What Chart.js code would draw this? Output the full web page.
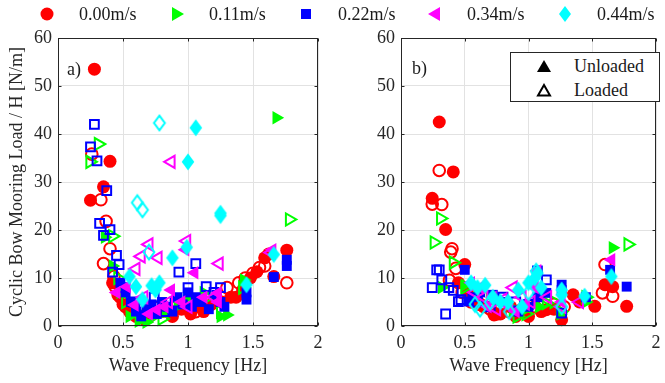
<!DOCTYPE html>
<html><head><meta charset="utf-8">
<script src="https://cdn.jsdelivr.net/npm/chart.js@4.4.1/dist/chart.umd.min.js"></script>
<style>
html,body{margin:0;padding:0;background:#fff;}
body{width:665px;height:383px;position:relative;overflow:hidden;font-family:"Liberation Serif","Times New Roman",serif;color:#1a1a1a;}
canvas{position:absolute;top:0;}
#c1{left:0;}
#c2{left:335px;}
.it{position:absolute;font-size:18px;line-height:20px;white-space:nowrap;}
.mk{position:absolute;}
#box{position:absolute;left:510px;top:52px;width:148px;height:48px;border:1px solid #262626;background:#fff;}
.pl{position:absolute;font-size:18px;line-height:20px;}
</style></head><body>
<canvas id="c1" width="330" height="383"></canvas>
<canvas id="c2" width="330" height="383"></canvas>
<div id="legend"></div>
<div class="pl" style="left:67px;top:59px;">a)</div>
<div class="pl" style="left:412px;top:58px;">b)</div>
<div id="box">
  <svg class="mk" style="left:25px;top:6px" width="16" height="14"><polygon points="8,1 15,13 1,13" fill="#000"/></svg>
  <div class="it" style="left:63px;top:3px;">Unloaded</div>
  <svg class="mk" style="left:25px;top:30px" width="16" height="14"><polygon points="8,2 14,12.5 2,12.5" fill="none" stroke="#000" stroke-width="2"/></svg>
  <div class="it" style="left:63px;top:27px;">Loaded</div>
</div>
<script>
// ---------------- data ----------------
const SPEEDS = ['0.00m/s','0.11m/s','0.22m/s','0.34m/s','0.44m/s'];
const X_TICKS = [0, 0.5, 1, 1.5, 2];
const Y_TICKS = [0, 10, 20, 30, 40, 50, 60];
const X_TITLE = 'Wave Frequency [Hz]';
const Y_TITLE = 'Cyclic Bow Mooring Load / H [N/m]';

// panel a) [frequency Hz, load N/m]
const a000U = [[0.28,53.5],[0.40,34.3],[0.25,26.2],[0.35,29.0],[0.42,9],[0.46,6.5],[0.48,8],[0.50,4.5],[0.55,3],[0.60,2],[0.66,1.5],[0.72,2.5],[0.80,3],[0.88,2],[0.95,3.5],[1.02,2.5],[1.08,4],[1.12,3],[1.18,4.5],[1.26,5],[1.33,6],[1.37,6],[1.42,7.5],[1.48,10],[1.53,11.3],[1.59,14.2],[1.62,15],[1.66,10.3],[1.76,15.8]];
const a000L = [[0.26,35.8],[0.33,26.3],[0.37,21.8],[0.40,16.1],[0.35,13],[0.43,10.3],[0.44,8.2],[0.48,6],[0.52,4],[0.58,2.5],[0.64,3.5],[0.70,2],[0.78,4],[0.86,3],[0.94,4],[1.00,5],[1.06,3],[1.14,4],[1.22,5.5],[1.30,8],[1.39,9],[1.44,10],[1.50,11],[1.55,12.2],[1.59,12.5],[1.76,9]];
const a011U = [[1.68,43.4],[0.36,18.5],[0.42,12.5],[0.48,7],[0.55,2],[0.62,1],[0.68,0.8],[0.74,2],[0.83,3],[0.92,4.5],[1.00,6],[1.05,5],[1.12,7],[1.25,2],[1.30,2.3],[1.43,9.6]];
const a011L = [[0.31,37.9],[0.245,34.2],[1.78,22.2],[0.42,18.7],[0.46,10],[0.52,5],[0.60,3],[0.70,2],[0.80,1.5],[0.90,4],[1.05,5],[1.15,6],[1.25,3],[1.42,8]];
const a022U = [[0.48,9],[0.52,7],[0.56,5],[0.60,3],[0.64,2],[0.68,3.5],[0.72,4.5],[0.76,2.5],[0.80,5],[0.84,4],[0.88,3],[0.92,6],[0.96,4.5],[1.00,7],[1.03,4],[1.06,6],[1.10,5],[1.16,3.5],[1.22,6.5],[1.25,5],[1.28,4],[1.45,5.5],[1.45,7],[1.66,10.2],[1.76,13.8],[1.76,12.5]];
const a022L = [[0.28,42],[0.25,37.3],[0.30,34.4],[0.375,28.2],[0.32,21.4],[0.40,20.1],[0.35,18.9],[0.45,14.7],[0.47,12.8],[0.42,11.2],[0.93,11.2],[1.06,13],[1.14,8.2],[0.50,8],[0.58,5],[0.66,4],[0.74,6],[0.82,3],[0.90,5],[1.00,8],[1.20,7],[1.25,8]];
const a034U = [[0.98,15.9],[1.05,11.1],[0.87,7.5],[0.59,4.4],[0.53,8.2],[1.23,6.9],[1.23,5],[0.76,3.4],[0.70,2.5],[0.82,4],[0.95,5],[1.12,6],[1.65,15.9],[0.45,7]];
const a034L = [[0.87,34.2],[0.70,17],[0.64,14.5],[0.77,14.2],[0.60,11.9],[0.99,17.7],[1.24,13],[1.64,15.3],[0.85,5],[1.20,6],[0.66,6],[1.00,4]];
const a044U = [[1.06,41.3],[1.00,34.2],[1.25,23.5],[1.25,23],[0.99,16.4],[0.88,14.2],[0.55,10.3],[0.60,8.2],[0.65,5.5],[0.72,8.4],[0.78,9],[1.66,14.9],[1.45,8.6],[0.75,7.5]];
const a044L = [[0.78,42.3],[0.61,25.7],[0.65,24.2],[0.70,15.4]];

// panel b)
const b000U = [[0.30,42.5],[0.41,32.1],[0.245,26.6],[0.35,20.1],[0.50,12.8],[0.45,9],[0.52,7],[0.58,5],[0.65,4],[0.73,2.3],[0.78,2.5],[0.86,4],[0.90,2],[1.00,2],[1.10,3],[1.14,3.4],[1.26,1.3],[1.20,3.5],[1.35,6.5],[1.40,5],[1.52,4.1],[1.60,8.6],[1.66,8.2],[1.77,4.1]];
const b000L = [[0.30,32.4],[0.245,25.4],[0.32,25.3],[0.40,16.1],[0.39,15.4],[0.43,12],[0.38,9.5],[0.48,7],[0.55,5],[0.62,4.5],[0.70,3.5],[0.75,2.5],[0.85,3],[0.95,3.5],[1.05,4],[1.20,4.5],[1.28,4],[1.60,12.8],[1.58,6.9],[1.66,6.2]];
const b011U = [[1.66,16.3],[0.32,8],[0.50,8.5],[0.60,7],[0.75,5],[0.95,3],[1.08,4],[1.25,2.5],[1.45,5]];
const b011L = [[1.78,17],[0.31,22.4],[0.26,17.4],[0.41,13.2],[0.50,8],[0.70,6],[0.88,3.5],[0.91,2],[0.98,2.5],[1.10,4.5],[1.14,4.8],[1.20,5],[1.25,3],[1.45,6]];
const b022U = [[0.50,11.7],[0.53,5.1],[0.56,6],[0.62,7],[0.72,6.5],[0.80,5],[0.92,3],[1.00,4],[1.07,6],[1.14,6.9],[1.26,8.6],[1.26,7.5],[1.45,6],[1.64,11.7],[1.77,8.2]];
const b022L = [[0.28,11.7],[0.30,11.7],[0.245,8],[0.35,2.5],[0.32,9.6],[0.375,8],[0.41,7.4],[0.45,5.1],[0.47,5.5],[1.14,9.6],[0.60,5],[0.70,4],[0.80,6],[0.90,5],[1.00,4.5],[1.07,11.5],[1.26,2.7]];
const b034U = [[1.65,13.8],[1.07,11.5],[0.55,9],[0.62,8],[0.72,6],[0.85,4],[0.90,3],[0.98,4.5],[1.05,8],[1.26,5],[0.68,4]];
const b034L = [[0.58,7],[0.65,6],[0.75,3.5],[0.88,8],[0.95,6],[1.02,5],[1.15,6],[1.26,4],[1.40,5],[0.80,5.5]];
const b044U = [[1.65,10.3],[0.55,9],[0.60,8],[0.66,8.5],[0.72,6],[0.78,5],[0.84,5],[0.92,7.5],[1.00,9],[1.05,10],[1.07,11],[1.10,8],[1.26,7.5],[1.26,6.5],[1.44,6.2],[0.95,4]];
const b044L = [[0.58,4.5],[0.62,3.5],[0.70,5],[0.85,3],[1.06,11.4],[1.00,7],[1.26,4]];

// ---------------- styles ----------------
const COLORS = ['#ff0000','#00ff00','#0000ff','#ff00ff','#00ffff'];
const FONT = '"Liberation Serif","Times New Roman",serif';
const TXT = '#262626';

function diamond(fill, color){
  const c = document.createElement('canvas'); c.width = 16; c.height = 20;
  const g = c.getContext('2d'); g.beginPath();
  if (fill){ g.moveTo(8,1.5); g.lineTo(14.3,10); g.lineTo(8,18.5); g.lineTo(1.7,10); g.closePath(); g.fillStyle = color; g.fill(); }
  else { g.moveTo(8,2.6); g.lineTo(13.4,10); g.lineTo(8,17.4); g.lineTo(2.6,10); g.closePath(); g.strokeStyle = color; g.lineWidth = 2; g.stroke(); }
  return c;
}
function marker(s, filled){
  const col = COLORS[s];
  const m = [
    {style:'circle', rot:0, rf:6.5, rh:5.8},
    {style:'triangle', rot:90, rf:7.8, rh:7},
    {style:'rect', rot:0, rf:7, rh:6.2},
    {style:'triangle', rot:-90, rf:7.8, rh:7},
    {style:null, rot:0, rf:6, rh:6}
  ][s];
  return {
    pointStyle: m.style ? m.style : diamond(filled, col),
    rotation: m.rot,
    pointRadius: filled ? m.rf : m.rh,
    pointBorderWidth: filled ? 0 : 2,
    pointBackgroundColor: filled ? col : 'rgba(0,0,0,0)',
    pointBorderColor: col
  };
}
function makeSets(groups){
  const sets = [];
  groups.forEach((g, s) => {
    [[g[0], true], [g[1], false]].forEach(([arr, filled]) => {
      const mk = marker(s, filled);
      sets.push({
        label: SPEEDS[s] + (filled ? ' unloaded' : ' loaded'),
        data: arr.map(p => ({x: p[0], y: p[1]})),
        pointStyle: mk.pointStyle, pointRotation: mk.rotation,
        pointRadius: mk.pointRadius, pointBorderWidth: mk.pointBorderWidth,
        pointBackgroundColor: mk.pointBackgroundColor, pointBorderColor: mk.pointBorderColor,
        showLine: false, clip: false,
        order: (4 - s) * 2 + (filled ? 0 : 1)
      });
    });
  });
  return sets;
}

const boxPlugin = {
  id: 'boxPlugin',
  afterDatasetsDraw(chart){
    const {ctx, chartArea: a, scales: {x, y}} = chart;
    const L = Math.round(a.left) + 0.5, R = Math.round(a.right) - 0.5, T = Math.round(a.top) + 0.5, B = Math.round(a.bottom) - 0.5;
    ctx.save();
    ctx.strokeStyle = TXT; ctx.lineWidth = 1;
    ctx.strokeRect(L, T, R - L, B - T);
    ctx.beginPath();
    X_TICKS.forEach(v => { const px = Math.round(x.getPixelForValue(v)) + 0.5; ctx.moveTo(px, B); ctx.lineTo(px, B - 3); ctx.moveTo(px, T); ctx.lineTo(px, T + 3); });
    Y_TICKS.forEach(v => { const py = Math.round(y.getPixelForValue(v)) + 0.5; ctx.moveTo(L, py); ctx.lineTo(L + 3, py); ctx.moveTo(R, py); ctx.lineTo(R - 3, py); });
    ctx.stroke();
    ctx.restore();
  }
};

function makeChart(id, groups, yWidth, padRight, showYTitle){
  return new Chart(document.getElementById(id), {
    type: 'scatter',
    data: { datasets: makeSets(groups) },
    plugins: [boxPlugin],
    options: {
      responsive: false, animation: false, devicePixelRatio: 1, events: [],
      layout: { padding: { top: 38, right: padRight, left: 0, bottom: 0 } },
      plugins: { legend: { display: false }, tooltip: { enabled: false } },
      scales: {
        x: {
          type: 'linear', min: 0, max: 2,
          afterBuildTicks: s => { s.ticks = X_TICKS.map(v => ({value: v})); },
          afterFit: s => { s.height = 57; s.paddingLeft = 0; s.paddingRight = 0; },
          ticks: { font: {family: FONT, size: 18}, color: TXT, padding: 6, maxRotation: 0, autoSkip: false, callback: v => String(v) },
          grid: { color: '#e2e2e2', drawTicks: false },
          border: { display: false },
          title: { display: true, text: X_TITLE, color: TXT, font: {family: FONT, size: 18}, padding: {top: 0, bottom: 6} }
        },
        y: {
          type: 'linear', min: 0, max: 60,
          afterBuildTicks: s => { s.ticks = Y_TICKS.map(v => ({value: v})); },
          afterFit: s => { s.width = yWidth; s.paddingTop = 0; s.paddingBottom = 0; },
          ticks: { font: {family: FONT, size: 18}, color: TXT, padding: 6, callback: v => String(v) },
          grid: { color: '#e2e2e2', drawTicks: false },
          border: { display: false },
          title: { display: showYTitle, text: Y_TITLE, color: TXT, font: {family: FONT, size: 18}, padding: {top: 6, bottom: 0} }
        }
      }
    }
  });
}

makeChart('c1', [[a000U,a000L],[a011U,a011L],[a022U,a022L],[a034U,a034L],[a044U,a044L]], 58, 12, true);
makeChart('c2', [[b000U,b000L],[b011U,b011L],[b022U,b022L],[b034U,b034L],[b044U,b044L]], 66, 3, false);

// top legend (HTML)
const LEG_MK = [47, 178, 306, 434, 565];
const LEG_TX = [79, 209, 338, 467, 597];
const shapes = [
  c => `<circle cx="8" cy="8" r="6.5" fill="${c}"/>`,
  c => `<polygon points="2,1 14,8 2,15" fill="${c}"/>`,
  c => `<rect x="3" y="3" width="10" height="10" fill="${c}"/>`,
  c => `<polygon points="14,1 2,8 14,15" fill="${c}"/>`,
  c => `<polygon points="8,0 14,8 8,16 2,8" fill="${c}"/>`
];
const leg = document.getElementById('legend');
SPEEDS.forEach((t, i) => {
  leg.insertAdjacentHTML('beforeend',
    `<svg class="mk" style="left:${LEG_MK[i]-8}px;top:6px" width="16" height="16">${shapes[i](COLORS[i])}</svg>` +
    `<div class="it" style="left:${LEG_TX[i]}px;top:4px;">${t}</div>`);
});
</script>
</body></html>
